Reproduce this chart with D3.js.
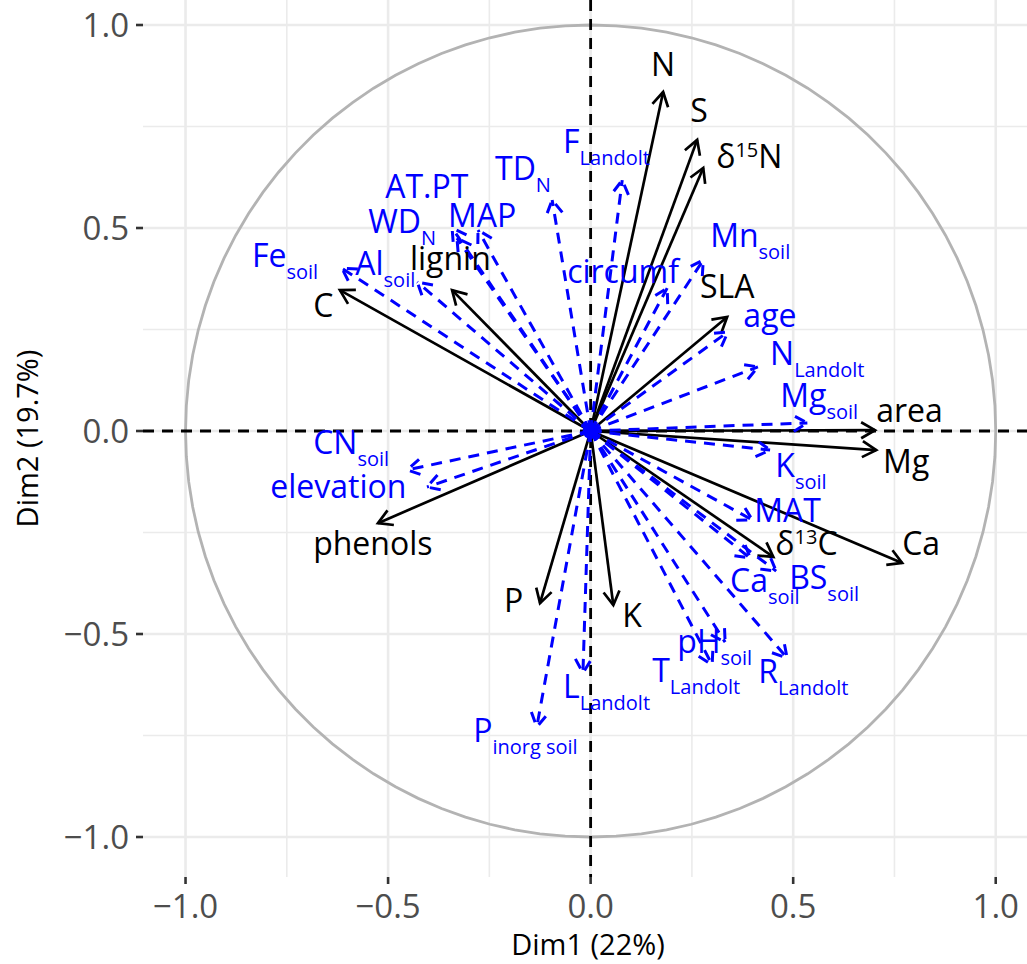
<!DOCTYPE html>
<html>
<head>
<meta charset="utf-8">
<script src="https://cdn.jsdelivr.net/npm/d3@7"></script>
<style>
  body { margin: 0; background: #fff; }
  text { font-family: "Open Sans", "DejaVu Sans", sans-serif; }
</style>
</head>
<body>
<div id="chart"></div>
<script>
// active variables (black, solid arrows): loadings on Dim1 / Dim2
const activeNames = ["N", "S", "d15N", "SLA", "area", "Mg", "Ca", "d13C", "K", "P", "phenols", "C", "lignin"];
const activeDim1 = [0.179, 0.263, 0.278, 0.337, 0.702, 0.705, 0.769, 0.451, 0.056, -0.125, -0.525, -0.619, -0.342];
const activeDim2 = [0.835, 0.717, 0.648, 0.281, 0.002, -0.047, -0.325, -0.310, -0.429, -0.424, -0.227, 0.347, 0.347];
// label spots (ggrepel output, data units)
const activeLabX = [0.149, 0.246, 0.310, 0.270, 0.705, 0.722, 0.769, 0.456, 0.078, -0.214, -0.685, -0.685, -0.446];
const activeLabY = [0.874, 0.761, 0.648, 0.328, 0.022, -0.103, -0.305, -0.305, -0.483, -0.446, -0.305, 0.281, 0.397];

// supplementary variables (blue, dashed)
const suppNames = ["Fe_soil", "Al_soil", "AT.PT", "WD_N", "MAP", "TD_N", "F_Landolt", "circumf", "Mn_soil", "age",
  "N_Landolt", "Mg_soil", "K_soil", "MAT", "Ca_soil", "BS_soil", "pH_soil", "T_Landolt", "R_Landolt", "L_Landolt",
  "P_inorg soil", "CN_soil", "elevation"];
const suppDim1 = [-0.614, -0.428, -0.342, -0.330, -0.278, -0.095, 0.078, 0.189, 0.278, 0.339,
  0.413, 0.535, 0.443, 0.399, 0.394, 0.458, 0.332, 0.300, 0.485, -0.019,
  -0.133, -0.453, -0.404];
const suppDim2 = [0.401, 0.367, 0.500, 0.475, 0.495, 0.569, 0.618, 0.352, 0.421, 0.244,
  0.158, 0.020, -0.047, -0.219, -0.313, -0.345, -0.520, -0.576, -0.559, -0.596,
  -0.729, -0.096, -0.138];
const suppLabX = [-0.836, -0.581, -0.507, -0.549, -0.352, -0.236, -0.068, -0.058, 0.295, 0.377,
  0.443, 0.468, 0.456, 0.404, 0.344, 0.490, 0.214, 0.152, 0.414, -0.068,
  -0.290, -0.685, -0.791];
const suppLabY = [0.404, 0.384, 0.574, 0.488, 0.502, 0.618, 0.685, 0.365, 0.453, 0.256,
  0.163, 0.059, -0.113, -0.224, -0.397, -0.389, -0.547, -0.618, -0.621, -0.658,
  -0.766, -0.057, -0.165];

const tickValues = [-1, -0.5, 0, 0.5, 1];
const minorValues = [-0.75, -0.25, 0.25, 0.75];
const xTitle = "Dim1 (22%)";
const yTitle = "Dim2 (19.7%)";

const W = 1027, H = 964;
const panel = {left: 143, right: 1033, top: 0, bottom: 877};

const x = d3.scaleLinear().domain([-1.105, 1.092]).range([panel.left, panel.right]);
const y = d3.scaleLinear().domain([-1.0985, 1.0616]).range([panel.bottom, panel.top]);

const svg = d3.select("#chart").append("svg")
  .attr("width", W).attr("height", H);

// grid
const grid = svg.append("g");
grid.selectAll(".vminor").data(minorValues).enter().append("line")
  .attr("x1", d => x(d)).attr("x2", d => x(d))
  .attr("y1", panel.top).attr("y2", panel.bottom)
  .attr("stroke", "#ebebeb").attr("stroke-width", 1.6);
grid.selectAll(".hminor").data(minorValues).enter().append("line")
  .attr("y1", d => y(d)).attr("y2", d => y(d))
  .attr("x1", panel.left).attr("x2", panel.right)
  .attr("stroke", "#ebebeb").attr("stroke-width", 1.6);
grid.selectAll(".vmajor").data(tickValues).enter().append("line")
  .attr("x1", d => x(d)).attr("x2", d => x(d))
  .attr("y1", panel.top).attr("y2", panel.bottom)
  .attr("stroke", "#ebebeb").attr("stroke-width", 2.6);
grid.selectAll(".hmajor").data(tickValues).enter().append("line")
  .attr("y1", d => y(d)).attr("y2", d => y(d))
  .attr("x1", panel.left).attr("x2", panel.right)
  .attr("stroke", "#ebebeb").attr("stroke-width", 2.6);

// correlation circle
const circ = d3.range(0, 101).map(i => [Math.cos(i / 100 * 2 * Math.PI), Math.sin(i / 100 * 2 * Math.PI)]);
svg.append("path")
  .attr("d", d3.line().x(d => x(d[0])).y(d => y(d[1]))(circ))
  .attr("fill", "none").attr("stroke", "#b3b3b3").attr("stroke-width", 2.8);

// zero lines
svg.append("line").attr("x1", panel.left).attr("x2", panel.right)
  .attr("y1", y(0)).attr("y2", y(0))
  .attr("stroke", "#000").attr("stroke-width", 2.8).attr("stroke-dasharray", "11,8");
svg.append("line").attr("y1", panel.top).attr("y2", panel.bottom)
  .attr("x1", x(0)).attr("x2", x(0))
  .attr("stroke", "#000").attr("stroke-width", 2.8).attr("stroke-dasharray", "11,8");

// arrows
function headPath(x1, y1) {
  const x0 = x(0), y0 = y(0), tx = x(x1), ty = y(y1);
  const a = Math.atan2(ty - y0, tx - x0), L = 16, sp = Math.PI / 6;
  const p1 = [tx - L * Math.cos(a - sp), ty - L * Math.sin(a - sp)];
  const p2 = [tx - L * Math.cos(a + sp), ty - L * Math.sin(a + sp)];
  return `M${p1[0]},${p1[1]}L${tx},${ty}L${p2[0]},${p2[1]}`;
}

const active = activeNames.map((n, i) => ({name: n, d1: activeDim1[i], d2: activeDim2[i], lx: activeLabX[i], ly: activeLabY[i]}));
const supp = suppNames.map((n, i) => ({name: n, d1: suppDim1[i], d2: suppDim2[i], lx: suppLabX[i], ly: suppLabY[i]}));

const ga = svg.append("g").attr("fill", "none").attr("stroke", "#000").attr("stroke-width", 2.7);
ga.selectAll("line").data(active).enter().append("line")
  .attr("x1", x(0)).attr("y1", y(0))
  .attr("x2", d => x(d.d1)).attr("y2", d => y(d.d2));
ga.selectAll("path").data(active).enter().append("path")
  .attr("d", d => headPath(d.d1, d.d2));

const gs = svg.append("g").attr("fill", "none").attr("stroke", "#0000ff")
  .attr("stroke-width", 3).attr("stroke-dasharray", "11,8");
gs.selectAll("line").data(supp).enter().append("line")
  .attr("x1", x(0)).attr("y1", y(0))
  .attr("x2", d => x(d.d1)).attr("y2", d => y(d.d2));
gs.selectAll("path").data(supp).enter().append("path")
  .attr("d", d => headPath(d.d1, d.d2));

svg.append("circle").attr("cx", x(0)).attr("cy", y(0)).attr("r", 8).attr("fill", "#0000ff");

// labels with sub/superscripts
function addLabel(g, d, color) {
  const t = g.append("text").attr("x", x(d.lx)).attr("y", y(d.ly))
    .attr("fill", color).attr("font-size", 32);
  let main = d.name, sub = null, sup = null;
  if (d.name === "d15N") { main = "\u03b4"; sup = ["15", "N"]; }
  else if (d.name === "d13C") { main = "\u03b4"; sup = ["13", "C"]; }
  else if (d.name === "P_inorg soil") { main = "P"; sub = "inorg soil"; }
  else if (d.name.indexOf("_") > 0) { const p = d.name.split("_"); main = p[0]; sub = p[1]; }
  t.append("tspan").text(main);
  if (sub) {
    t.append("tspan").attr("dy", 12).attr("font-size", 20).text(sub);
  }
  if (sup) {
    t.append("tspan").attr("dy", -11).attr("font-size", 20).text(sup[0]);
    t.append("tspan").attr("dy", 11).text(sup[1]);
  }
}
const gl = svg.append("g");
active.forEach(d => addLabel(gl, d, "#000"));
supp.forEach(d => addLabel(gl, d, "#0000ff"));

// axes ticks
const fmt = v => d3.format(".1f")(v).replace("-", "\u2212");
svg.selectAll(".yt").data(tickValues).enter().append("line")
  .attr("x1", panel.left - 7).attr("x2", panel.left)
  .attr("y1", d => y(d)).attr("y2", d => y(d))
  .attr("stroke", "#333").attr("stroke-width", 2.6);
svg.selectAll(".ytl").data(tickValues).enter().append("text")
  .attr("x", panel.left - 14).attr("y", d => y(d)).attr("dy", "0.36em")
  .attr("text-anchor", "end").attr("font-size", 33).attr("fill", "#4d4d4d")
  .text(fmt);
svg.selectAll(".xt").data(tickValues).enter().append("line")
  .attr("y1", panel.bottom).attr("y2", panel.bottom + 7)
  .attr("x1", d => x(d)).attr("x2", d => x(d))
  .attr("stroke", "#333").attr("stroke-width", 2.6);
svg.selectAll(".xtl").data(tickValues).enter().append("text")
  .attr("x", d => x(d)).attr("y", 918)
  .attr("text-anchor", "middle").attr("font-size", 33).attr("fill", "#4d4d4d")
  .text(fmt);

svg.append("text").attr("x", (panel.left + panel.right) / 2).attr("y", 955)
  .attr("text-anchor", "middle").attr("font-size", 29).attr("fill", "#000").text(xTitle);
svg.append("text").attr("transform", `translate(38,${(panel.top + panel.bottom) / 2}) rotate(-90)`)
  .attr("text-anchor", "middle").attr("font-size", 29).attr("fill", "#000").text(yTitle);
</script>
</body>
</html>
